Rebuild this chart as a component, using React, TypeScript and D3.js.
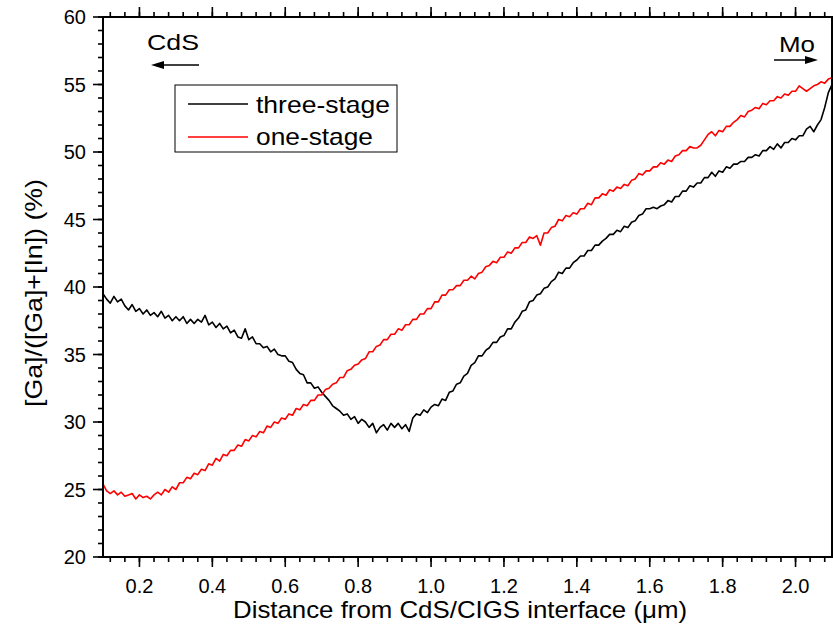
import React from "react";
import * as d3 from "d3";

// Distance from CdS/CIGS interface (µm), sampled every 0.01 µm
const distance: number[] = [
  0.10,0.11,0.12,0.13,0.14,0.15,0.16,0.17,0.18,0.19,
  0.20,0.21,0.22,0.23,0.24,0.25,0.26,0.27,0.28,0.29,
  0.30,0.31,0.32,0.33,0.34,0.35,0.36,0.37,0.38,0.39,
  0.40,0.41,0.42,0.43,0.44,0.45,0.46,0.47,0.48,0.49,
  0.50,0.51,0.52,0.53,0.54,0.55,0.56,0.57,0.58,0.59,
  0.60,0.61,0.62,0.63,0.64,0.65,0.66,0.67,0.68,0.69,
  0.70,0.71,0.72,0.73,0.74,0.75,0.76,0.77,0.78,0.79,
  0.80,0.81,0.82,0.83,0.84,0.85,0.86,0.87,0.88,0.89,
  0.90,0.91,0.92,0.93,0.94,0.95,0.96,0.97,0.98,0.99,
  1.00,1.01,1.02,1.03,1.04,1.05,1.06,1.07,1.08,1.09,
  1.10,1.11,1.12,1.13,1.14,1.15,1.16,1.17,1.18,1.19,
  1.20,1.21,1.22,1.23,1.24,1.25,1.26,1.27,1.28,1.29,
  1.30,1.31,1.32,1.33,1.34,1.35,1.36,1.37,1.38,1.39,
  1.40,1.41,1.42,1.43,1.44,1.45,1.46,1.47,1.48,1.49,
  1.50,1.51,1.52,1.53,1.54,1.55,1.56,1.57,1.58,1.59,
  1.60,1.61,1.62,1.63,1.64,1.65,1.66,1.67,1.68,1.69,
  1.70,1.71,1.72,1.73,1.74,1.75,1.76,1.77,1.78,1.79,
  1.80,1.81,1.82,1.83,1.84,1.85,1.86,1.87,1.88,1.89,
  1.90,1.91,1.92,1.93,1.94,1.95,1.96,1.97,1.98,1.99,
  2.00,2.01,2.02,2.03,2.04,2.05,2.06,2.07,2.08,2.09,
  2.10,
];

// [Ga]/([Ga]+[In]) (%) — three-stage process
const threeStage: number[] = [
  39.5,39.1,38.8,39.3,38.9,39.1,38.6,38.3,38.7,38.2,
  38.4,38.0,38.3,37.9,38.1,37.8,38.2,37.7,37.9,37.5,
  37.8,37.5,37.8,37.3,37.6,37.3,37.6,37.4,37.9,37.2,
  37.4,37.0,37.3,36.9,37.1,36.6,36.8,36.3,36.2,36.9,
  36.1,36.3,35.8,35.8,35.5,35.6,35.2,35.4,35.0,34.9,
  34.9,34.5,34.4,33.9,33.6,33.5,32.9,32.9,32.5,32.6,
  32.2,31.9,31.6,31.2,31.0,30.8,30.5,30.6,30.2,30.4,
  29.9,30.2,30.0,29.6,29.9,29.2,29.6,29.8,29.4,29.9,
  29.6,29.9,29.5,29.8,29.3,30.3,30.6,30.5,30.9,30.7,
  31.1,31.3,31.2,31.7,31.6,32.2,32.3,32.8,32.9,33.4,
  33.6,34.2,34.4,34.9,34.9,35.3,35.5,35.9,35.9,36.3,
  36.4,36.9,36.9,37.4,37.7,38.2,38.3,38.9,39.0,39.4,
  39.5,39.9,40.0,40.4,40.6,41.1,41.0,41.4,41.4,41.8,
  42.0,42.3,42.3,42.7,42.7,43.1,43.1,43.4,43.6,43.9,
  43.9,44.2,44.1,44.5,44.4,44.8,44.9,45.3,45.4,45.8,
  45.8,45.9,45.8,46.0,46.1,46.4,46.3,46.7,46.7,47.1,
  47.1,47.5,47.4,47.7,47.7,48.1,48.1,48.5,48.2,48.6,
  48.5,48.9,48.8,49.1,49.1,49.3,49.3,49.6,49.6,49.8,
  49.7,50.1,50.1,50.4,50.2,50.6,50.3,50.7,50.7,51.0,
  50.9,51.2,51.2,51.7,51.9,51.5,52.0,52.4,53.3,54.4,
  55.0,
];

// [Ga]/([Ga]+[In]) (%) — one-stage process
const oneStage: number[] = [
  25.4,24.9,24.7,24.9,24.6,24.8,24.5,24.6,24.7,24.3,
  24.6,24.4,24.5,24.3,24.6,24.8,24.6,25.0,24.8,25.2,
  25.0,25.5,25.5,25.9,25.8,26.2,26.1,26.5,26.4,26.9,
  26.8,27.3,27.1,27.6,27.5,27.9,27.9,28.3,28.2,28.7,
  28.6,29.0,28.9,29.3,29.2,29.7,29.6,30.0,29.9,30.3,
  30.2,30.6,30.5,31.0,30.9,31.3,31.2,31.6,31.6,32.0,
  32.0,32.4,32.5,32.8,32.9,33.3,33.3,33.8,33.9,34.2,
  34.3,34.6,34.7,35.2,35.2,35.6,35.7,36.1,36.1,36.5,
  36.5,36.9,36.8,37.2,37.2,37.6,37.6,38.0,38.0,38.4,
  38.4,38.9,38.9,39.4,39.4,39.8,39.8,40.1,40.1,40.5,
  40.5,40.8,40.6,41.0,41.1,41.5,41.6,41.9,41.8,42.2,
  42.2,42.6,42.5,42.9,42.9,43.3,43.3,43.7,43.6,43.8,
  43.1,44.0,44.0,44.4,44.5,45.0,44.9,45.3,45.2,45.5,
  45.4,45.8,45.8,46.2,46.1,46.6,46.6,46.9,46.8,47.2,
  47.1,47.4,47.3,47.6,47.5,47.9,48.0,48.4,48.3,48.6,
  48.6,48.9,48.9,49.2,49.1,49.4,49.3,49.7,49.8,50.1,
  50.1,50.4,50.3,50.3,50.5,50.9,51.3,51.5,51.2,51.6,
  51.5,51.9,51.9,52.2,52.4,52.7,52.6,53.0,53.1,53.3,
  53.2,53.6,53.5,53.8,53.8,54.1,54.0,54.3,54.2,54.5,
  54.5,54.9,54.7,54.5,54.7,54.9,55.0,55.2,55.1,55.4,
  55.5,
];

const seriesNames = ["three-stage", "one-stage"];
const seriesColors = ["#000000", "#ff0000"];

const xMajorTicks = [0.2, 0.4, 0.6, 0.8, 1.0, 1.2, 1.4, 1.6, 1.8, 2.0];
const xMajorLabels = ["0.2", "0.4", "0.6", "0.8", "1.0", "1.2", "1.4", "1.6", "1.8", "2.0"];
const yMajorTicks = [20, 25, 30, 35, 40, 45, 50, 55, 60];
const yMajorLabels = ["20", "25", "30", "35", "40", "45", "50", "55", "60"];

const xTitle = "Distance from CdS/CIGS interface (\u03bcm)";
const yTitle = "[Ga]/([Ga]+[In]) (%)";

const FONT = "'Liberation Sans', Arial, Helvetica, sans-serif";

export default function App() {
  const W = 833;
  const H = 632;
  const left = 103, right = 832, top = 17, bottom = 557;
  const x = d3.scaleLinear().domain([0.1, 2.1]).range([left, right]);
  const y = d3.scaleLinear().domain([20, 60]).range([bottom, top]);

  const xMinor = d3.range(0, 51).map((i) => 0.12 + i * 0.04).filter((v) => v <= 2.1 + 1e-9);
  const yMinor = d3.range(20, 61, 1);

  const line = d3
    .line<[number, number]>()
    .x((d) => x(d[0]))
    .y((d) => y(d[1]));

  const blackPts: [number, number][] = distance.map((d, i) => [d, threeStage[i]]);
  const redPts: [number, number][] = distance.map((d, i) => [d, oneStage[i]]);

  return (
    <svg
      width={W}
      height={H}
      style={{ position: "absolute", left: 0, top: 0, background: "#fff" }}
      fontFamily={FONT}
    >
      <rect x={0} y={0} width={W} height={H} fill="#fff" />
      <defs>
        <clipPath id="plotClip">
          <rect x={left} y={top} width={right - left} height={bottom - top} />
        </clipPath>
      </defs>

      {/* data */}
      <g clipPath="url(#plotClip)">
        <path d={line(blackPts) || ""} fill="none" stroke={seriesColors[0]} strokeWidth={1.6} strokeLinejoin="round" />
        <path d={line(redPts) || ""} fill="none" stroke={seriesColors[1]} strokeWidth={1.6} strokeLinejoin="round" />
      </g>

      {/* ticks */}
      <g stroke="#000" strokeWidth={1.6}>
        {xMinor.map((v, i) => (
          <g key={"xm" + i}>
            <line x1={x(v)} x2={x(v)} y1={bottom} y2={bottom + 5} />
            <line x1={x(v)} x2={x(v)} y1={top} y2={top - 5} />
          </g>
        ))}
        {yMinor.map((v, i) => (
          <g key={"ym" + i}>
            <line x1={left} x2={left - 5} y1={y(v)} y2={y(v)} />
          </g>
        ))}
        {xMajorTicks.map((v, i) => (
          <g key={"xM" + i}>
            <line x1={x(v)} x2={x(v)} y1={bottom} y2={bottom + 10} />
            <line x1={x(v)} x2={x(v)} y1={top} y2={top - 10} />
          </g>
        ))}
        {yMajorTicks.map((v, i) => (
          <line key={"yM" + i} x1={left} x2={left - 10} y1={y(v)} y2={y(v)} />
        ))}
      </g>

      {/* frame */}
      <rect
        x={left}
        y={top}
        width={right - left}
        height={bottom - top}
        fill="none"
        stroke="#000"
        strokeWidth={2}
      />

      {/* tick labels */}
      <g fontSize={20} fill="#000">
        {xMajorTicks.map((v, i) => (
          <text key={"xl" + i} x={x(v)} y={593} textAnchor="middle">
            {xMajorLabels[i]}
          </text>
        ))}
        {yMajorTicks.map((v, i) => (
          <text key={"yl" + i} x={86} y={y(v) + 7} textAnchor="end">
            {yMajorLabels[i]}
          </text>
        ))}
      </g>

      {/* axis titles */}
      <text
        x={460}
        y={618}
        textAnchor="middle"
        fontSize={24}
        textLength={454}
        lengthAdjust="spacingAndGlyphs"
      >
        {xTitle}
      </text>
      <text
        transform="translate(42,293) rotate(-90)"
        textAnchor="middle"
        fontSize={24}
        textLength={228}
        lengthAdjust="spacingAndGlyphs"
      >
        {yTitle}
      </text>

      {/* legend */}
      <rect x={175} y={85} width={222} height={67} fill="#fff" stroke="#000" strokeWidth={1} />
      {seriesNames.map((name, i) => (
        <g key={"lg" + i}>
          <line
            x1={188}
            x2={248}
            y1={104 + i * 33}
            y2={104 + i * 33}
            stroke={seriesColors[i]}
            strokeWidth={1.3}
          />
          <text
            x={256}
            y={113 + i * 32}
            fontSize={24}
            textLength={i === 0 ? 134 : 117}
            lengthAdjust="spacingAndGlyphs"
          >
            {name}
          </text>
        </g>
      ))}

      {/* CdS / Mo annotations */}
      <text x={147} y={50} fontSize={22} textLength={52} lengthAdjust="spacingAndGlyphs">
        CdS
      </text>
      <line x1={199} x2={160} y1={65} y2={65} stroke="#000" strokeWidth={1.5} />
      <polygon points="151,65 164,61 164,69" fill="#000" />

      <text x={779} y={52} fontSize={22} textLength={36} lengthAdjust="spacingAndGlyphs">
        Mo
      </text>
      <line x1={774} x2={808} y1={60} y2={60} stroke="#000" strokeWidth={1.5} />
      <polygon points="818,60 805,56 805,64" fill="#000" />
    </svg>
  );
}
